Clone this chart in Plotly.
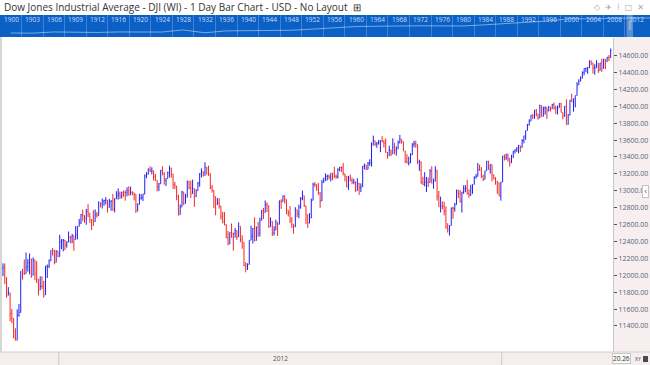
import pandas as pd
import plotly.graph_objects as go

# ---------------- data (DJI daily bars, 14 Nov 2011 .. 2 Apr 2013) ----------------
holidays = ["2011-11-24", "2011-12-26", "2012-01-02", "2012-01-16", "2012-02-20", "2012-04-06",
            "2012-05-28", "2012-07-04", "2012-09-03", "2012-10-29", "2012-10-30", "2012-11-22",
            "2012-12-25", "2013-01-01", "2013-01-21", "2013-02-18", "2013-03-29"]
dates = [d for d in pd.bdate_range("2011-11-14", "2013-04-02") if d.strftime("%Y-%m-%d") not in holidays]

open_ = [
    12152, 12078, 12094, 11904, 11771, 11794, 11546, 11489, 11257, 11231, 11523, 11559,
    12045, 12021, 12020, 12097, 12149, 12194, 11999, 12182, 12022, 11955, 11825, 11868, 11867, 11769, 12104, 12107, 12169, 12292, 12289, 12152, 12286,
    12221, 12392, 12414, 12413, 12360, 12392, 12460, 12450, 12469, 12423, 12482, 12578, 12622, 12720, 12708, 12675, 12758, 12734, 12659, 12654,
    12633, 12716, 12707, 12860, 12844, 12878, 12883, 12889, 12802, 12874, 12878, 12780, 12904, 12949, 12965, 12937, 12984, 12981, 12981, 13004,
    12952, 12980, 12977, 12960, 12759, 12838, 12907, 12921, 12960, 13176, 13194, 13253, 13232, 13238, 13170, 13124, 13046, 13082, 13241, 13197, 13126, 13146,
    13211, 13263, 13198, 13074, 13057, 12929, 12717, 12807, 12986, 12850, 12922, 13114, 13032, 12965, 13028, 12929, 13002, 13091, 13205, 13228,
    13214, 13278, 13268, 13206, 13036, 13007, 12931, 12836, 12854, 12820, 12694, 12632, 12598, 12442, 12370, 12505, 12501, 12495, 12530, 12455, 12579, 12419,
    12391, 12119, 12101, 12126, 12415, 12460, 12555, 12411, 12572, 12497, 12651, 12766, 12742, 12837, 12823, 12574, 12639, 12502, 12535, 12626, 12603,
    12879, 12871, 12942, 12895, 12771, 12736, 12653, 12604, 12573, 12776, 12727, 12805, 12907, 12942, 12822, 12720, 12617, 12677, 12887, 13073, 13071,
    13009, 12977, 12879, 13096, 13118, 13169, 13175, 13164, 13207, 13207, 13172, 13164, 13250, 13275, 13272, 13202, 13172, 13057, 13157, 13123, 13102, 13106, 13002,
    13092, 13035, 13047, 13292, 13306, 13254, 13324, 13333, 13540, 13593, 13552, 13565, 13576, 13597, 13578, 13559, 13456, 13414, 13485,
    13437, 13515, 13482, 13495, 13575, 13609, 13583, 13472, 13345, 13326, 13329, 13424, 13551, 13558, 13548, 13344, 13345, 13103, 13078, 13103, 13107,
    13098, 13232, 13092, 13112, 13245, 12933, 12811, 12816, 12814, 12757, 12570, 12543, 12589, 12795, 12789, 12837, 13009, 12967, 12877, 12986, 13022,
    13026, 12966, 12952, 13034, 13075, 13155, 13170, 13248, 13245, 13170, 13135, 13236, 13350, 13253, 13311, 13190, 13139, 13114, 13095, 12938,
    13104, 13413, 13391, 13436, 13384, 13330, 13391, 13471, 13488, 13507, 13534, 13511, 13596, 13650, 13712, 13779, 13825, 13896, 13882, 13954, 13910,
    13861, 14009, 13880, 13978, 13986, 13944, 13992, 13971, 14019, 13981, 13973, 13982, 14035, 13926, 13880, 14000, 13783, 13899, 14075,
    14054, 14089, 14128, 14253, 14296, 14330, 14397, 14447, 14450, 14455, 14539, 14514, 14453, 14456, 14511, 14421, 14512, 14448, 14559, 14527,
    14578, 14574,
]
high = [
    12152, 12141, 12140, 11978, 11860, 11794, 11601, 11489, 11373, 11597, 11661, 12046,
    12076, 12186, 12269, 12191, 12258, 12194, 12211, 12182, 12168, 11955, 11988, 11988, 11932, 12112, 12127, 12188, 12294, 12323, 12303, 12297, 12286,
    12479, 12428, 12430, 12420, 12403, 12518, 12464, 12491, 12469, 12582, 12580, 12667, 12724, 12777, 12708, 12786, 12842, 12734, 12659, 12769,
    12780, 12749, 12874, 12860, 12909, 12894, 12925, 12889, 12905, 12889, 12962, 12911, 12994, 13028, 12992, 12986, 13002, 13006, 13041, 13053,
    13049, 12996, 12977, 12960, 12852, 12965, 12960, 12965, 13193, 13220, 13265, 13289, 13278, 13238, 13200, 13124, 13093, 13247, 13290, 13222, 13148, 13227,
    13297, 13275, 13198, 13106, 13057, 12953, 12839, 12999, 12986, 12964, 13119, 13114, 13121, 13132, 13028, 13018, 13104, 13208, 13265, 13228,
    13338, 13278, 13297, 13206, 13069, 13007, 12931, 12913, 12913, 12820, 12751, 12747, 12603, 12525, 12508, 12613, 12501, 12561, 12532, 12626, 12579, 12474,
    12391, 12155, 12142, 12415, 12588, 12560, 12686, 12573, 12633, 12682, 12772, 12798, 12886, 12862, 12823, 12685, 12639, 12580, 12658, 12626, 12885,
    12899, 12944, 12942, 12895, 12771, 12819, 12688, 12604, 12805, 12776, 12837, 12926, 13003, 12942, 12822, 12720, 12736, 12908, 13095, 13104, 13077,
    13094, 12985, 13130, 13154, 13205, 13190, 13191, 13208, 13207, 13284, 13194, 13267, 13284, 13289, 13330, 13202, 13172, 13176, 13191, 13156, 13141, 13106, 13149,
    13092, 13087, 13294, 13321, 13306, 13341, 13373, 13573, 13653, 13593, 13576, 13600, 13596, 13647, 13602, 13620, 13459, 13533, 13485,
    13620, 13567, 13526, 13595, 13661, 13609, 13583, 13472, 13433, 13403, 13445, 13564, 13592, 13592, 13548, 13368, 13345, 13165, 13220, 13164, 13157,
    13257, 13290, 13145, 13290, 13245, 12998, 12931, 12873, 12871, 12815, 12616, 12595, 12802, 12812, 12857, 13011, 13009, 13010, 12986, 13065, 13066,
    13131, 13017, 13071, 13075, 13172, 13200, 13330, 13310, 13279, 13192, 13236, 13352, 13355, 13313, 13311, 13190, 13162, 13114, 13095, 13105,
    13412, 13430, 13436, 13436, 13384, 13427, 13472, 13489, 13515, 13543, 13534, 13610, 13651, 13713, 13792, 13846, 13896, 13906, 13955, 13969, 13911,
    14019, 14009, 13995, 13998, 13986, 14004, 13992, 14029, 14045, 14006, 14009, 14036, 14039, 13926, 14003, 14082, 13906, 14075, 14149,
    14090, 14128, 14286, 14320, 14354, 14413, 14448, 14455, 14466, 14539, 14539, 14514, 14497, 14546, 14511, 14514, 14563, 14560, 14559, 14585,
    14606, 14684,
]
low = [
    12025, 11990, 11900, 11735, 11760, 11456, 11433, 11257, 11231, 11231, 11510, 11559,
    11949, 12004, 12020, 12044, 12012, 11970, 11999, 11943, 11908, 11761, 11825, 11835, 11735, 11769, 11968, 12086, 12169, 12233, 12129, 12152, 12217,
    12221, 12309, 12283, 12299, 12327, 12392, 12378, 12380, 12289, 12423, 12424, 12578, 12606, 12641, 12620, 12598, 12688, 12620, 12535, 12583,
    12633, 12681, 12707, 12803, 12790, 12822, 12838, 12743, 12802, 12764, 12764, 12744, 12904, 12894, 12904, 12908, 12929, 12883, 12935, 12944,
    12952, 12944, 12885, 12738, 12759, 12838, 12894, 12878, 12960, 13148, 13194, 13222, 13194, 13120, 13119, 12992, 12996, 13082, 13183, 13072, 13057, 13146,
    13158, 13154, 13022, 13019, 12888, 12707, 12717, 12807, 12830, 12850, 12922, 13017, 12915, 12965, 12809, 12927, 13002, 13048, 13156, 13168,
    13175, 13192, 13176, 13018, 12979, 12797, 12710, 12836, 12789, 12659, 12614, 12592, 12442, 12355, 12370, 12443, 12292, 12445, 12418, 12455, 12391, 12315,
    12107, 12035, 12063, 12126, 12415, 12375, 12401, 12411, 12453, 12459, 12651, 12665, 12742, 12749, 12561, 12574, 12465, 12470, 12535, 12465, 12603,
    12785, 12871, 12849, 12720, 12696, 12618, 12560, 12492, 12573, 12688, 12675, 12788, 12888, 12809, 12607, 12560, 12616, 12677, 12887, 13043, 13003,
    12950, 12799, 12879, 13096, 13118, 13122, 13135, 13111, 13126, 13151, 13140, 13146, 13231, 13220, 13182, 13111, 13038, 13010, 13112, 13082, 13076, 12986, 13002,
    12951, 12985, 13047, 13253, 13245, 13254, 13296, 13286, 13540, 13527, 13509, 13546, 13457, 13574, 13511, 13450, 13379, 13414, 13410,
    13437, 13431, 13415, 13495, 13559, 13557, 13470, 13329, 13326, 13300, 13328, 13424, 13515, 13509, 13315, 13235, 13081, 13067, 13052, 12985, 13045,
    13098, 13087, 13024, 13112, 12884, 12811, 12743, 12780, 12708, 12550, 12505, 12471, 12589, 12669, 12754, 12837, 12912, 12859, 12743, 12963, 12983,
    12957, 12917, 12940, 12964, 13075, 13145, 13170, 13235, 13151, 13116, 13135, 13236, 13251, 13203, 13110, 13135, 13072, 12964, 12937, 12883,
    13104, 13358, 13366, 13344, 13287, 13330, 13391, 13441, 13460, 13441, 13458, 13511, 13561, 13603, 13712, 13771, 13825, 13850, 13851, 13880, 13841,
    13861, 13876, 13880, 13902, 13850, 13943, 13938, 13970, 13961, 13907, 13903, 13982, 13927, 13845, 13880, 13784, 13783, 13891, 14050,
    13937, 13987, 14128, 14253, 14296, 14330, 14366, 14403, 14384, 14455, 14486, 14387, 14373, 14456, 14394, 14421, 14406, 14448, 14439, 14527,
    14535, 14574,
]
close = [
    12079, 12096, 11905, 11770, 11796, 11547, 11493, 11257, 11231, 11523, 11556, 12046,
    12020, 12019, 12098, 12150, 12196, 11997, 12184, 12021, 11955, 11823, 11868, 11866, 11766, 12103, 12107, 12169, 12294, 12291, 12151, 12287, 12218,
    12397, 12418, 12415, 12360, 12392, 12462, 12449, 12471, 12422, 12482, 12578, 12623, 12720, 12709, 12675, 12758, 12735, 12660, 12654, 12633,
    12716, 12706, 12862, 12845, 12878, 12883, 12890, 12801, 12874, 12878, 12781, 12904, 12950, 12966, 12938, 12985, 12983, 12981, 13005, 12952,
    12980, 12978, 12962, 12759, 12838, 12908, 12922, 12960, 13177, 13194, 13253, 13233, 13239, 13171, 13125, 13046, 13081, 13241, 13197, 13127, 13145, 13212,
    13264, 13199, 13075, 13060, 12930, 12716, 12806, 12987, 12850, 12921, 13115, 13033, 12964, 13029, 12928, 13001, 13090, 13204, 13228, 13214,
    13279, 13268, 13207, 13038, 13008, 12932, 12835, 12855, 12820, 12695, 12632, 12598, 12442, 12369, 12504, 12502, 12496, 12529, 12454, 12580, 12419, 12393,
    12118, 12101, 12127, 12414, 12461, 12554, 12411, 12573, 12497, 12651, 12767, 12742, 12837, 12824, 12574, 12640, 12502, 12535, 12627, 12602, 12880,
    12871, 12943, 12896, 12772, 12736, 12653, 12605, 12573, 12777, 12727, 12805, 12908, 12943, 12822, 12721, 12617, 12676, 12887, 13075, 13073, 13009,
    12976, 12879, 13096, 13118, 13169, 13176, 13165, 13208, 13207, 13172, 13165, 13250, 13276, 13272, 13203, 13173, 13057, 13158, 13124, 13102, 13107, 13001, 13091,
    13036, 13047, 13292, 13306, 13254, 13324, 13333, 13540, 13593, 13553, 13565, 13577, 13596, 13579, 13558, 13457, 13414, 13486, 13437,
    13515, 13482, 13495, 13575, 13610, 13584, 13473, 13345, 13326, 13329, 13424, 13551, 13558, 13548, 13344, 13346, 13103, 13078, 13104, 13107, 13096,
    13232, 13093, 13112, 13246, 12932, 12811, 12815, 12815, 12757, 12571, 12543, 12588, 12796, 12789, 12837, 13010, 12968, 12878, 12985, 13022, 13026,
    12966, 12952, 13035, 13075, 13155, 13170, 13248, 13245, 13171, 13135, 13236, 13351, 13252, 13312, 13190, 13139, 13114, 13096, 12938, 13104,
    13412, 13391, 13435, 13384, 13329, 13390, 13471, 13488, 13507, 13535, 13511, 13596, 13650, 13712, 13779, 13825, 13896, 13882, 13954, 13910, 13861,
    14010, 13880, 13979, 13986, 13944, 13993, 13971, 14019, 13982, 13973, 13981, 14035, 13927, 13881, 14000, 13784, 13900, 14075, 14054,
    14090, 14128, 14254, 14296, 14329, 14397, 14448, 14450, 14455, 14539, 14515, 14453, 14456, 14512, 14421, 14512, 14448, 14560, 14527, 14579,
    14573, 14662,
]

y_ticks = [11400, 11600, 11800, 12000, 12200, 12400, 12600, 12800, 13000,
           13200, 13400, 13600, 13800, 14000, 14200, 14400, 14600]

# navigator (long history) labels and approximate index levels
nav_years = ["1900", "1903", "1906", "1909", "1912", "1916", "1920", "1924", "1928", "1932",
             "1936", "1940", "1944", "1948", "1952", "1956", "1960", "1964", "1968", "1972",
             "1976", "1980", "1984", "1988", "1992", "1996", "2000", "2004", "2008", "2012"]
nav_levels = [68, 64, 99, 86, 82, 99, 108, 95, 203, 74,
              144, 151, 136, 181, 269, 488, 679, 763, 905, 890,
              858, 839, 1259, 1939, 3169, 5117, 11497, 10453, 13264, 12218, 14600]

TITLE = "Dow Jones Industrial Average - DJI (WI) - 1 Day Bar Chart - USD - No Layout  \u229e"

# ---------------- layout helpers ----------------
W, H = 650, 365
MT, MB = 15, 13
PH = H - MT - MB


def px_x(p):
    return p / W


def px_y(p):
    return (H - MB - p) / PH


n = len(close)
xs = list(range(n))
years = [d.year for d in dates]
i2012 = [i for i, y in enumerate(years) if y == 2012]
i2013 = [i for i, y in enumerate(years) if y == 2013]

FONT = "Open Sans"
fig = go.Figure()

fig.add_trace(go.Ohlc(
    x=xs, open=open_, high=high, low=low, close=close,
    increasing=dict(line=dict(color="#1f1ff5", width=1)),
    decreasing=dict(line=dict(color="#f52525", width=1)),
    tickwidth=0.3, hoverinfo="skip", xaxis="x", yaxis="y", showlegend=False,
))

nav_step = 21.55
nav_x = [k + 0.5 for k in range(len(nav_years))] + [W / nav_step]
fig.add_trace(go.Scatter(
    x=nav_x, y=nav_levels, mode="lines",
    line=dict(color="rgba(255,255,255,0.45)", width=1),
    hoverinfo="skip", xaxis="x2", yaxis="y2", showlegend=False,
))

shapes = []
# navigator band
shapes.append(dict(type="rect", xref="paper", yref="paper", x0=0, x1=1, y0=px_y(37), y1=px_y(15),
                   fillcolor="#0b60c6", line=dict(width=0), layer="below"))
# right axis panel
shapes.append(dict(type="rect", xref="paper", yref="paper", x0=px_x(613), x1=1, y0=px_y(352), y1=px_y(37),
                   fillcolor="#f7efef", line=dict(width=0), layer="below"))
# bottom strip
shapes.append(dict(type="rect", xref="paper", yref="paper", x0=0, x1=1, y0=px_y(365), y1=px_y(352),
                   fillcolor="#f4eeee", line=dict(width=0), layer="below"))
shapes.append(dict(type="line", xref="paper", yref="paper", x0=0, x1=1, y0=px_y(352), y1=px_y(352),
                   line=dict(color="#d2cccc", width=1)))
# left border
shapes.append(dict(type="line", xref="paper", yref="paper", x0=px_x(1), x1=px_x(1), y0=px_y(352), y1=px_y(37),
                   line=dict(color="#d6d6d2", width=2)))
# year dividers in bottom strip
for idx in (i2012[0] - 0.5, i2013[0] - 0.5):
    shapes.append(dict(type="line", xref="x", yref="paper", x0=idx, x1=idx, y0=px_y(365), y1=px_y(352),
                       line=dict(color="#cfc8c8", width=1)))
# navigator window highlight
shapes.append(dict(type="rect", xref="paper", yref="paper", x0=px_x(626.5), x1=px_x(633), y0=px_y(37), y1=px_y(15),
                   fillcolor="rgba(255,255,255,0.30)", line=dict(width=0)))
shapes.append(dict(type="rect", xref="paper", yref="paper", x0=px_x(628.5), x1=px_x(631.5), y0=px_y(30), y1=px_y(22),
                   fillcolor="#98a6bd", line=dict(width=0)))
# bottom-right controls
shapes.append(dict(type="rect", xref="paper", yref="paper", x0=px_x(643), x1=px_x(648), y0=px_y(362), y1=px_y(356),
                   fillcolor="#4a4a4a", line=dict(width=0)))

annotations = []
annotations.append(dict(text=TITLE, xref="paper", yref="paper", x=px_x(2), y=px_y(7.5), xanchor="left",
                        yanchor="middle", showarrow=False, font=dict(family=FONT, size=10, color="#333333")))
annotations.append(dict(text="\u25c7  \u2708  \u205e  \u25a1  \u2715", xref="paper", yref="paper", x=px_x(646),
                        y=px_y(7), xanchor="right", yanchor="middle", showarrow=False,
                        font=dict(family="DejaVu Sans", size=8, color="#a8a8a8")))
for k, yr in enumerate(nav_years):
    annotations.append(dict(text=yr, xref="x2", yref="paper", x=k + 0.08, y=px_y(19.5), xanchor="left",
                            yanchor="middle", showarrow=False,
                            font=dict(family=FONT, size=6.5, color="#c9dcf6")))
annotations.append(dict(text="2012", xref="x", yref="paper", x=(i2012[0] + i2012[-1]) / 2, y=px_y(358.5),
                        xanchor="center", yanchor="middle", showarrow=False,
                        font=dict(family=FONT, size=6.5, color="#555555")))
annotations.append(dict(text="20.26", xref="paper", yref="paper", x=px_x(621), y=px_y(358.5),
                        xanchor="center", yanchor="middle", showarrow=False, bordercolor="#c8c8c8", borderwidth=1,
                        borderpad=0, bgcolor="#f8f8f8", font=dict(family=FONT, size=6.5, color="#333333")))
annotations.append(dict(text="XY", xref="paper", yref="paper", x=px_x(637.5), y=px_y(358.5),
                        xanchor="center", yanchor="middle", showarrow=False,
                        font=dict(family=FONT, size=5, color="#444444")))
annotations.append(dict(text="\u2039", xref="paper", yref="paper", x=px_x(645), y=px_y(191),
                        xanchor="center", yanchor="middle", showarrow=False, bgcolor="#ffffff",
                        bordercolor="#c4c4c4", borderwidth=1, borderpad=1,
                        font=dict(family="DejaVu Sans", size=8, color="#555555")))

fig.update_layout(
    width=W, height=H, autosize=False, template="none",
    margin=dict(l=0, r=0, t=MT, b=MB, pad=0),
    paper_bgcolor="#ffffff", plot_bgcolor="rgba(0,0,0,0)",
    showlegend=False,
    xaxis=dict(domain=[0, px_x(613)], anchor="y", range=[-0.7, n + 0.3], showticklabels=False,
               ticks="", showgrid=False, zeroline=False, showline=False, automargin=False,
               rangeslider=dict(visible=False), fixedrange=True),
    yaxis=dict(domain=[0, px_y(38)], anchor="x", side="right", range=[11092, 14808],
               tickvals=y_ticks, ticktext=[f"{v:.2f}" for v in y_ticks],
               ticks="outside", ticklen=3, tickcolor="#555555", tickwidth=1,
               showline=True, linecolor="#c6c6c6", linewidth=1, showgrid=False, zeroline=False,
               tickfont=dict(family=FONT, size=7, color="#56627a"), automargin=False, fixedrange=True),
    xaxis2=dict(domain=[0, 1], anchor="y2", range=[0, W / nav_step], showticklabels=False, ticks="",
                tickvals=list(range(1, len(nav_years))), showgrid=True,
                gridcolor="rgba(255,255,255,0.22)", gridwidth=1, zeroline=False, showline=False,
                automargin=False, fixedrange=True),
    yaxis2=dict(domain=[px_y(37), 1], anchor="x2", type="log", range=[1.209, 4.626], visible=False,
                fixedrange=True),
    shapes=shapes, annotations=annotations,
)

fig.write_html("out.html", config={"displayModeBar": False},
               post_script="document.body.style.margin='0px';document.body.style.overflow='hidden';")
